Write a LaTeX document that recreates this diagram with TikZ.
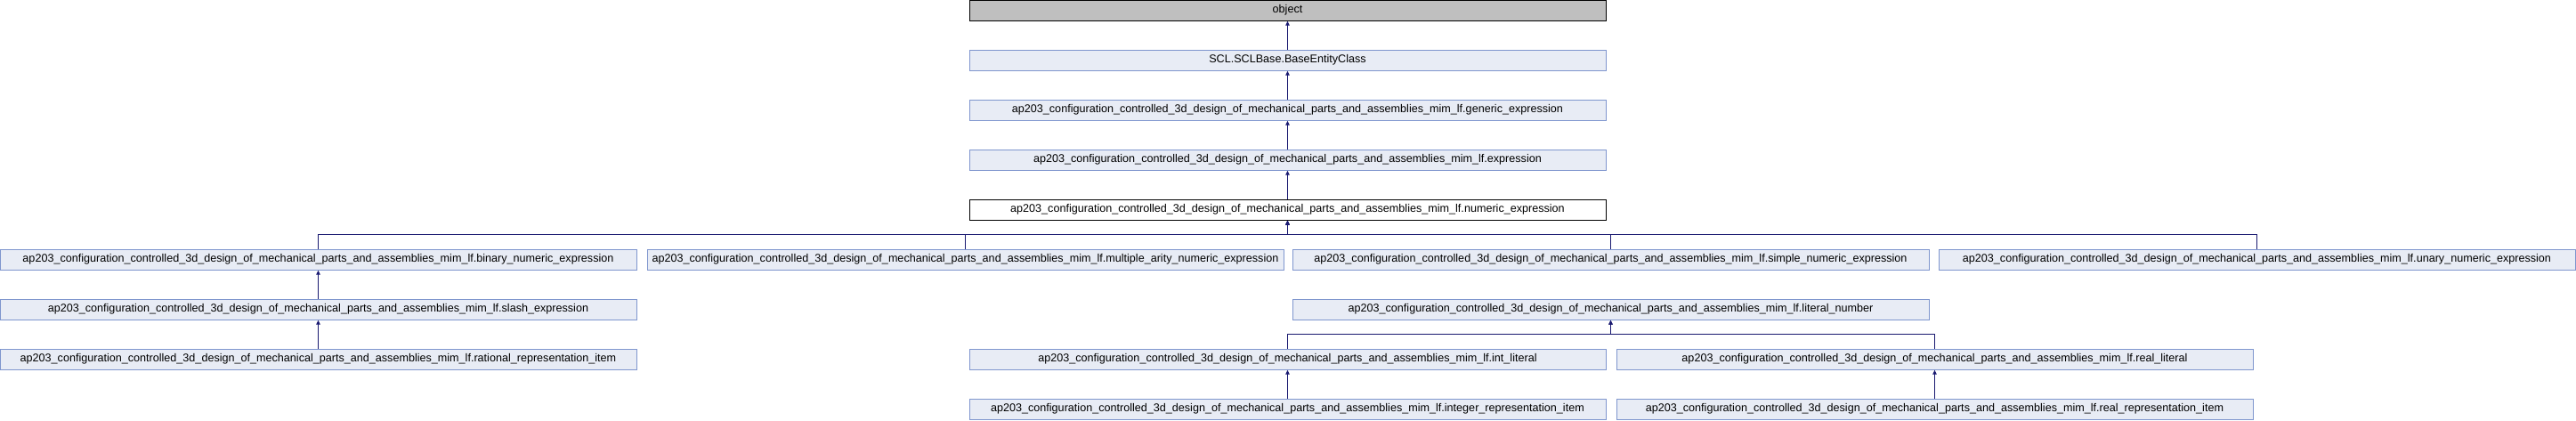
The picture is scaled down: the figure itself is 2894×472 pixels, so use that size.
\documentclass[tikz,border=0pt]{standalone}
\usepackage{fontspec}
\setmainfont{Liberation Sans}
\usetikzlibrary{arrows.meta}
\definecolor{edgeblue}{HTML}{191970}
\definecolor{boxfill}{HTML}{E8ECF5}
\definecolor{boxline}{HTML}{7F96CE}
\definecolor{greyfill}{HTML}{BFBFBF}
\tikzset{
  cls/.style={rectangle, minimum width=715pt, minimum height=23pt, inner sep=0pt,
    line width=1pt, font=\fontsize{12.6}{15}\selectfont},
  docbox/.style={cls, draw=boxline, fill=boxfill},
  curbox/.style={cls, draw=black, fill=white},
  rootbox/.style={cls, draw=black, fill=greyfill},
  edge/.style={draw=edgeblue, line width=1pt, -{Triangle[length=5pt,width=4.5pt]}}
}
\begin{document}
\begin{tikzpicture}[x=1pt, y=-1pt]
\useasboundingbox (0,0) rectangle (2894,472);
\node[rootbox] (obj) at (1446.5,11.7) {object};
\node[docbox] (scl) at (1446.5,67.7) {SCL.SCLBase.BaseEntityClass};
\node[docbox] (gen) at (1446.5,123.7) {ap203\_configuration\_controlled\_3d\_design\_of\_mechanical\_parts\_and\_assemblies\_mim\_lf.generic\_expression};
\node[docbox] (expr) at (1446.5,179.7) {ap203\_configuration\_controlled\_3d\_design\_of\_mechanical\_parts\_and\_assemblies\_mim\_lf.expression};
\node[curbox] (num) at (1446.5,235.7) {ap203\_configuration\_controlled\_3d\_design\_of\_mechanical\_parts\_and\_assemblies\_mim\_lf.numeric\_expression};
\node[docbox] (bin) at (357.5,291.7) {ap203\_configuration\_controlled\_3d\_design\_of\_mechanical\_parts\_and\_assemblies\_mim\_lf.binary\_numeric\_expression};
\node[docbox] (mult) at (1084.5,291.7) {ap203\_configuration\_controlled\_3d\_design\_of\_mechanical\_parts\_and\_assemblies\_mim\_lf.multiple\_arity\_numeric\_expression};
\node[docbox] (simp) at (1809.5,291.7) {ap203\_configuration\_controlled\_3d\_design\_of\_mechanical\_parts\_and\_assemblies\_mim\_lf.simple\_numeric\_expression};
\node[docbox] (un) at (2535.5,291.7) {ap203\_configuration\_controlled\_3d\_design\_of\_mechanical\_parts\_and\_assemblies\_mim\_lf.unary\_numeric\_expression};
\node[docbox] (slash) at (357.5,347.7) {ap203\_configuration\_controlled\_3d\_design\_of\_mechanical\_parts\_and\_assemblies\_mim\_lf.slash\_expression};
\node[docbox] (litnum) at (1809.5,347.7) {ap203\_configuration\_controlled\_3d\_design\_of\_mechanical\_parts\_and\_assemblies\_mim\_lf.literal\_number};
\node[docbox] (rat) at (357.5,403.7) {ap203\_configuration\_controlled\_3d\_design\_of\_mechanical\_parts\_and\_assemblies\_mim\_lf.rational\_representation\_item};
\node[docbox] (intlit) at (1446.5,403.7) {ap203\_configuration\_controlled\_3d\_design\_of\_mechanical\_parts\_and\_assemblies\_mim\_lf.int\_literal};
\node[docbox] (reallit) at (2173.5,403.7) {ap203\_configuration\_controlled\_3d\_design\_of\_mechanical\_parts\_and\_assemblies\_mim\_lf.real\_literal};
\node[docbox] (intrep) at (1446.5,459.7) {ap203\_configuration\_controlled\_3d\_design\_of\_mechanical\_parts\_and\_assemblies\_mim\_lf.integer\_representation\_item};
\node[docbox] (realrep) at (2173.5,459.7) {ap203\_configuration\_controlled\_3d\_design\_of\_mechanical\_parts\_and\_assemblies\_mim\_lf.real\_representation\_item};
% straight inheritance edges
\draw[edge] (scl) -- (obj);
\draw[edge] (gen) -- (scl);
\draw[edge] (expr) -- (gen);
\draw[edge] (num) -- (expr);
\draw[edge] (slash) -- (bin);
\draw[edge] (rat) -- (slash);
\draw[edge] (intrep) -- (intlit);
\draw[edge] (realrep) -- (reallit);
% bus edges
\draw[edge] (bin.north) -- ++(0,-16) -| (num.south);
\draw[edge] (mult.north) -- ++(0,-16) -| (num.south);
\draw[edge] (simp.north) -- ++(0,-16) -| (num.south);
\draw[edge] (un.north) -- ++(0,-16) -| (num.south);
\draw[edge] (intlit.north) -- ++(0,-16) -| (litnum.south);
\draw[edge] (reallit.north) -- ++(0,-16) -| (litnum.south);
\end{tikzpicture}
\end{document}
